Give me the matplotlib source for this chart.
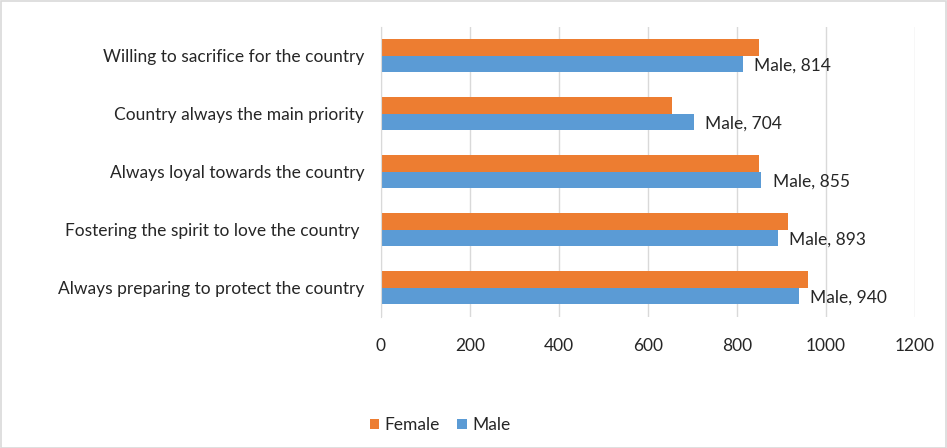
import numpy as np
import matplotlib.pyplot as plt
from matplotlib.patches import Rectangle

categories = ['Willing to sacrifice for the country',
              'Country always the main priority',
              'Always loyal towards the country',
              'Fostering the spirit to love the country ',
              'Always preparing to protect the country']
female = [850, 653, 850, 915, 960]
male = [814, 704, 855, 893, 940]
ticks = [0, 200, 400, 600, 800, 1000, 1200]

plt.rcParams['font.family'] = ['Lato', 'DejaVu Sans']
fs = 12.5

fig = plt.figure(figsize=(9.47, 4.48), dpi=100)
ax = fig.add_axes([381 / 947, 1 - 316.7 / 448, 534 / 947, 290 / 448])

y = np.arange(len(categories))
h = 0.28
ax.barh(y - h / 2, female, height=h, color='#ED7D31', label='Female')
bars = ax.barh(y + h / 2, male, height=h, color='#5B9BD5', label='Male')
for b, v in zip(bars, male):
    ax.annotate(f'Male, {v}', (v, b.get_y() + b.get_height() / 2),
                xytext=(8, -1.5), textcoords='offset points',
                va='center', ha='left', fontsize=fs, color='#262626')

ax.set_ylim(len(categories) - 0.5, -0.5)
ax.set_xlim(0, 1200)
ax.set_xticks(ticks)
ax.set_yticks(y)
ax.set_yticklabels(categories, fontsize=fs, color='#262626')
ax.tick_params(axis='x', labelsize=fs, colors='#262626', length=0, pad=15)
ax.tick_params(axis='y', length=0, pad=12)
ax.grid(axis='x', color='#D9D9D9', linewidth=1)
ax.set_axisbelow(True)
for s in ['top', 'right', 'bottom']:
    ax.spines[s].set_visible(False)
ax.spines['left'].set_color('#D9D9D9')

leg = fig.legend(loc='center', bbox_to_anchor=(440 / 947, 1 - 425 / 448), ncol=2,
                 frameon=False, fontsize=fs, handlelength=0.55, handleheight=0.55,
                 handletextpad=0.3, columnspacing=1.0)
for t in leg.get_texts():
    t.set_color('#262626')

fig.patches.append(Rectangle((0.5 / 947, 0.5 / 448), 1 - 1.5 / 947, 1 - 1.5 / 448,
                             transform=fig.transFigure, fill=False,
                             edgecolor='#D9D9D9', linewidth=1.2))

fig.savefig('out.png', dpi=100)
